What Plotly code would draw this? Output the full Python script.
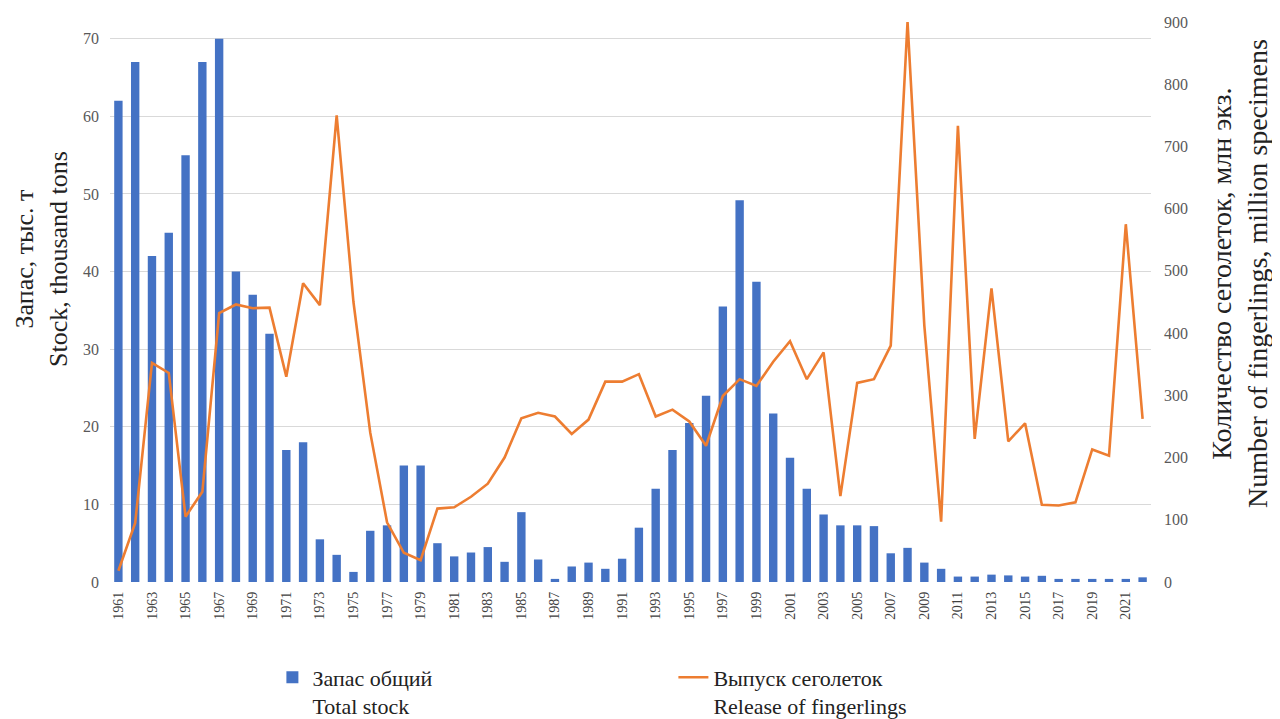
import plotly.graph_objects as go

years = list(range(1961, 2023))

total_stock = [
    62, 67, 42, 45, 55, 67, 70, 40, 37, 32,
    17, 18, 5.5, 3.5, 1.3, 6.6, 7.3, 15, 15, 5,
    3.3, 3.8, 4.5, 2.6, 9, 2.9, 0.4, 2, 2.5, 1.7,
    3, 7, 12, 17, 20.5, 24, 35.5, 49.2, 38.7, 21.7,
    16, 12, 8.7, 7.3, 7.3, 7.2, 3.7, 4.4, 2.5, 1.7,
    0.7, 0.7, 0.95, 0.85, 0.7, 0.8, 0.4, 0.4, 0.4, 0.4,
    0.4, 0.6,
]

fingerlings = [
    18, 95, 352, 336, 105, 145, 432, 446, 440, 441,
    330, 480, 445, 750, 450, 240, 96, 47, 35, 118,
    120, 137, 158, 200, 263, 272, 266, 238, 261, 322,
    322, 334, 266, 277, 258, 219, 299, 326, 315, 354,
    387, 326, 369, 138, 320, 326, 380, 900, 412, 97,
    733, 230, 472, 226, 255, 124, 123, 128, 213, 203,
    575, 262,
]

tick_years = list(range(1961, 2023, 2))

left_title = "Запас, тыс. т<br>Stock, thousand tons"
right_title = "Количество сеголеток, млн экз.<br>Number of fingerlings, million specimens"
bar_name = "Запас общий<br>Total stock"
line_name = "Выпуск сеголеток<br>Release of fingerlings"

FONT = "'Liberation Serif', 'Times New Roman', serif"

# figure geometry (page body adds an 8px offset)
W, H = 1272, 711
ML, MR, MT, MB = 102, 129, 14, 137
PW, PH = W - ML - MR, H - MT - MB


def px_x(px):
    return (px - ML) / PW


def px_y(py):
    return (H - MB - py) / PH


fig = go.Figure()
fig.add_trace(go.Bar(
    x=years, y=total_stock, name=bar_name,
    marker=dict(color="#4472C4", line=dict(width=0)),
    yaxis="y",
))
fig.add_trace(go.Scatter(
    x=years, y=fingerlings, name=line_name, mode="lines",
    line=dict(color="#ED7D31", width=2.6),
    yaxis="y2",
))

fig.update_layout(
    width=W, height=H,
    margin=dict(l=ML, r=MR, t=MT, b=MB, autoexpand=False),
    paper_bgcolor="white", plot_bgcolor="white",
    font=dict(family=FONT, color="#222222"),
    bargap=0.5,
    showlegend=True,
    legend=dict(
        orientation="h", x=0.156, xanchor="left", y=-0.133, yanchor="top",
        font=dict(family=FONT, size=22, color="#222222"),
        valign="top", itemwidth=30, entrywidth=356, entrywidthmode="pixels",
        tracegroupgap=0,
    ),
    xaxis=dict(
        range=[1960.5, 2022.5], tickmode="array", tickvals=tick_years,
        ticktext=[str(y) for y in tick_years], tickangle=-90,
        tickfont=dict(family=FONT, size=14, color="#404040"),
        showgrid=False, zeroline=False, showline=False, ticks="",
        ticklabelstandoff=6,
    ),
    yaxis=dict(
        range=[0, 72.16], tickmode="linear", tick0=0, dtick=10,
        tickfont=dict(family=FONT, size=16, color="#595959"),
        showgrid=True, gridcolor="#d9d9d9", gridwidth=1,
        zeroline=False, showline=False, ticks="", ticklabelstandoff=10,
    ),
    yaxis2=dict(
        range=[0, 900], tickmode="linear", tick0=0, dtick=100,
        overlaying="y", side="right",
        tickfont=dict(family=FONT, size=16, color="#595959"),
        showgrid=False, zeroline=False, showline=False, ticks="", ticklabelstandoff=12,
    ),
    annotations=[
        dict(text=left_title, xref="paper", yref="paper",
             x=px_x(33), y=px_y(251), xanchor="center", yanchor="middle",
             textangle=-90, showarrow=False,
             font=dict(family=FONT, size=26, color="#222222")),
        dict(text=right_title, xref="paper", yref="paper",
             x=px_x(1231), y=px_y(266), xanchor="center", yanchor="middle",
             textangle=-90, showarrow=False,
             font=dict(family=FONT, size=28, color="#222222")),
    ],
)

fig.write_html("out.html")
